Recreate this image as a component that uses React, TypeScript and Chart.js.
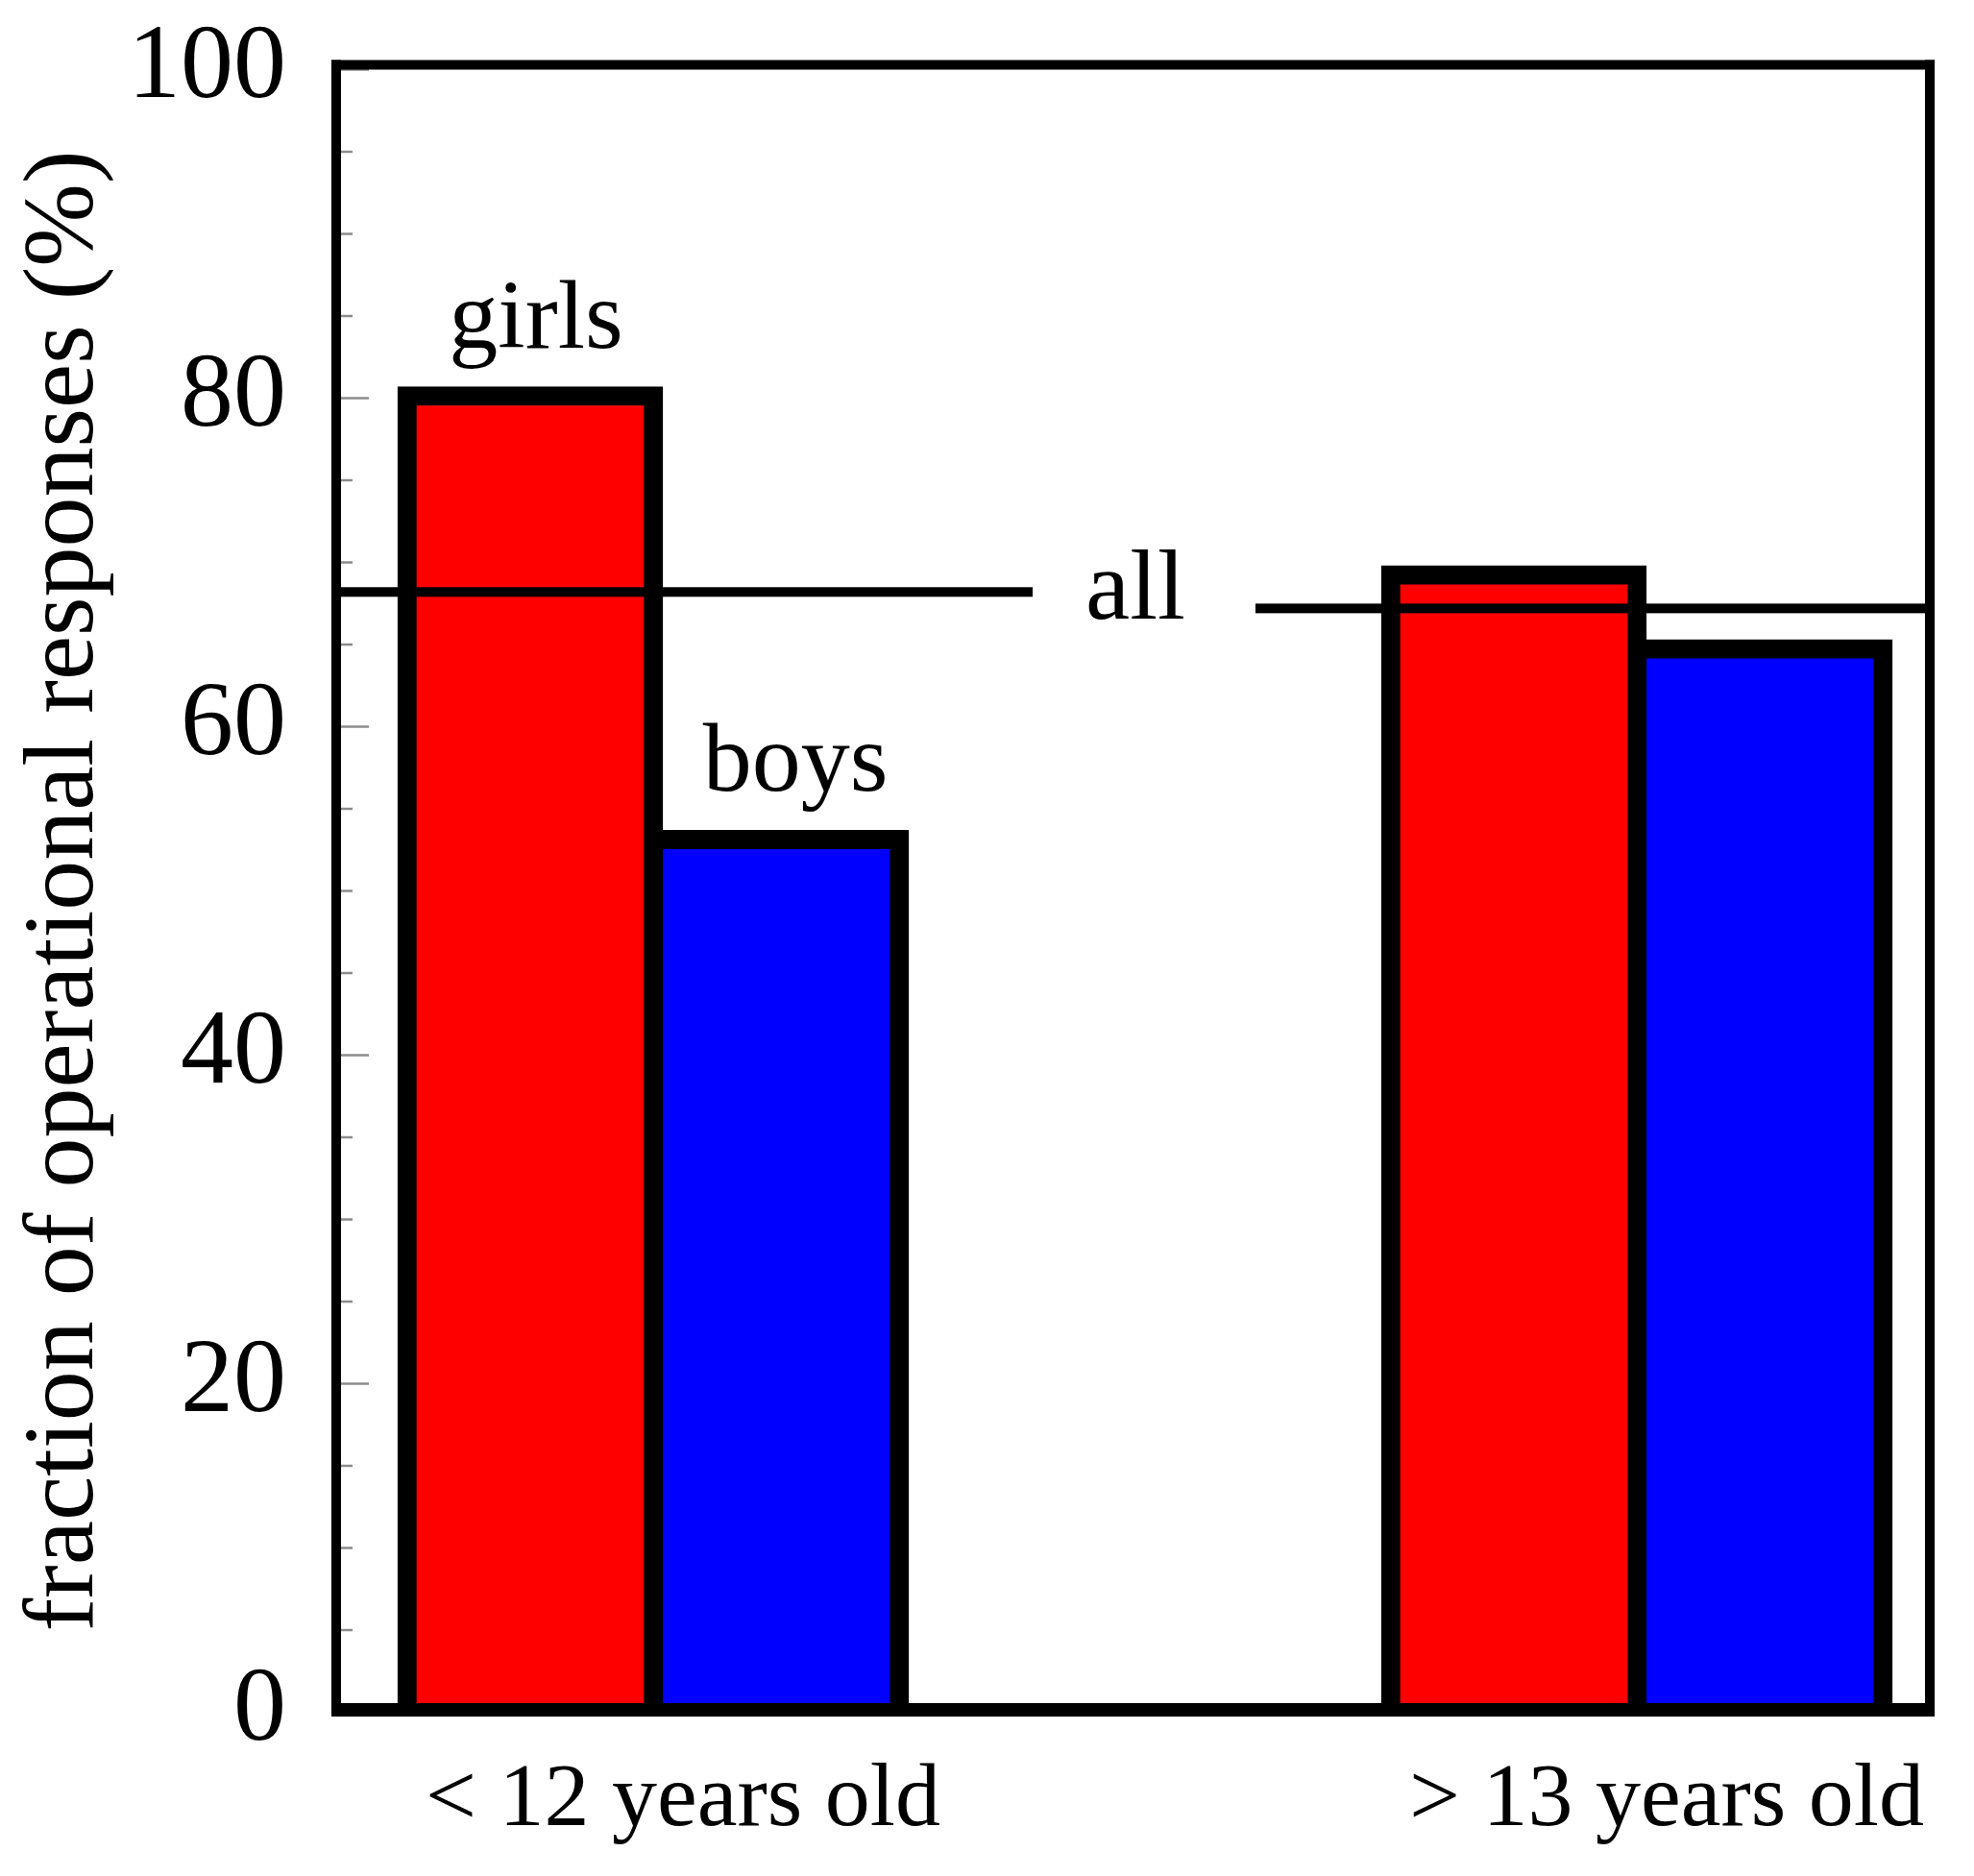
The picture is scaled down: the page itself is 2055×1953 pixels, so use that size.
import React, { useEffect, useRef } from 'react';
import { Chart, registerables } from 'chart.js';

Chart.register(...registerables);

// ---- data ----
const categories = ['< 12 years old', '> 13 years old'];
const seriesLabels = ['girls', 'boys'];
const girlsValues = [80.7, 69.8];
const boysValues = [53.7, 65.3];
const allValues = [68.2, 67.2];
const allLabel = 'all';
const yTitle = 'fraction of operational responses (%)';

const FONT = "'Liberation Serif', 'Times New Roman', Times, serif";

const W = 2055;
const H = 1953;

const decorPlugin = {
  id: 'decor',
  afterDatasetsDraw(chart: any) {
    const { ctx, chartArea: ca, scales } = chart;
    const y = scales.y;
    ctx.save();

    // inward ticks on the left axis
    ctx.strokeStyle = '#8c8c8c';
    ctx.lineWidth = 2.5;
    for (let v = y.min; v <= y.max + 0.001; v += 5) {
      const py = y.getPixelForValue(v);
      const len = Math.round(v) % 20 === 0 ? 29 : 12;
      ctx.beginPath();
      ctx.moveTo(ca.left + 5, py);
      ctx.lineTo(ca.left + 5 + len, py);
      ctx.stroke();
    }

    // "all" reference lines
    const g = chart.getDatasetMeta(0).data;
    const b = chart.getDatasetMeta(1).data;
    const gapL = b[0].x + b[0].width / 2;
    const gapR = g[1].x - g[1].width / 2;
    const mid = (gapL + gapR) / 2 - 10;
    ctx.font = `104px ${FONT}`;
    const w = ctx.measureText(allLabel).width;
    const yL = y.getPixelForValue(allValues[0]);
    const yR = y.getPixelForValue(allValues[1]);
    ctx.fillStyle = '#000';
    const lEnd = mid - w / 2 - 55;
    const rStart = mid + w / 2 + 73;
    ctx.fillRect(ca.left, yL - 5, lEnd - ca.left, 10);
    ctx.fillRect(rStart, yR - 5, ca.right - rStart, 10);
    ctx.textAlign = 'center';
    ctx.textBaseline = 'alphabetic';
    ctx.fillText(allLabel, mid, yL + 28);

    // frame
    const L = ca.left - 5;
    const R = ca.right + 5;
    const T = ca.top - 10;
    const B = ca.bottom + 4.5;
    ctx.fillRect(L, T, R - L, 10);
    ctx.fillRect(L, ca.bottom - 9.5, R - L, 14);
    ctx.fillRect(L, T, 10, B - T);
    ctx.fillRect(R - 10, T, 10, B - T);

    // series labels over first group
    ctx.font = `102px ${FONT}`;
    ctx.fillText(seriesLabels[0], g[0].x + 6, g[0].y - 41);
    ctx.fillText(seriesLabels[1], b[0].x + 10, b[0].y - 41);

    ctx.restore();
  },
};

export default function App() {
  const ref = useRef<HTMLCanvasElement | null>(null);

  useEffect(() => {
    if (!ref.current) return;
    const xPositions = categories.map((_, i) => i + 1);
    const chart = new Chart(ref.current, {
      type: 'bar',
      data: {
        datasets: [
          {
            label: seriesLabels[0],
            data: xPositions.map((x, i) => ({ x, y: girlsValues[i] })),
            backgroundColor: '#ff0000',
            borderColor: '#000000',
            borderWidth: { top: 20, left: 20, right: 20, bottom: 0 },
            borderSkipped: false,
            barThickness: 276,
          },
          {
            label: seriesLabels[1],
            data: xPositions.map((x, i) => ({ x, y: boysValues[i] })),
            backgroundColor: '#0000ff',
            borderColor: '#000000',
            borderWidth: { top: 20, left: 0, right: 20, bottom: 0 },
            borderSkipped: false,
            barThickness: 256,
          },
        ],
      },
      options: {
        responsive: false,
        animation: false,
        devicePixelRatio: 1,
        layout: { padding: { left: 0, top: 72.5, right: W - 2009, bottom: 0 } },
        plugins: {
          legend: { display: false },
          tooltip: { enabled: false },
        },
        scales: {
          x: {
            type: 'linear',
            offset: false,
            min: 1 - 340 / 1024,
            max: 2 + 295 / 1024,
            grid: {
              display: true,
              drawOnChartArea: false,
              drawTicks: true,
              tickLength: 36,
              tickColor: 'rgba(0,0,0,0)',
              color: 'rgba(0,0,0,0)',
            },
            border: { display: false },
            afterBuildTicks: (scale: any) => {
              scale.ticks = xPositions.map((v) => ({ value: v }));
            },
            afterFit: (scale: any) => {
              scale.height = H - 1782.5;
            },
            ticks: {
              autoSkip: false,
              maxRotation: 0,
              minRotation: 0,
              padding: 0,
              labelOffset: 21,
              color: '#000',
              font: { family: FONT, size: 94 },
              callback: (v: any) => categories[Math.round(Number(v)) - 1] ?? '',
            },
          },
          y: {
            type: 'linear',
            min: 0,
            max: 100,
            grid: {
              display: true,
              drawOnChartArea: false,
              drawTicks: true,
              tickLength: 52,
              tickColor: 'rgba(0,0,0,0)',
              color: 'rgba(0,0,0,0)',
            },
            border: { display: false },
            afterFit: (scale: any) => {
              scale.width = 350;
            },
            ticks: {
              stepSize: 20,
              padding: 0,
              color: '#000',
              font: { family: FONT, size: 110 },
            },
            title: {
              display: true,
              text: yTitle,
              color: '#000',
              padding: { top: 6, bottom: 0 },
              font: { family: FONT, size: 104 },
            },
          },
        },
      },
      plugins: [decorPlugin],
    } as any);
    return () => chart.destroy();
  }, []);

  return (
    <div style={{ position: 'absolute', left: 0, top: 0, width: W, height: H, background: '#fff' }}>
      <canvas ref={ref} width={W} height={H} style={{ width: W, height: H, display: 'block' }} />
    </div>
  );
}
